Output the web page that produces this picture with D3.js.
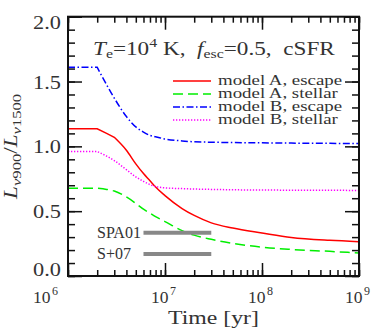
<!DOCTYPE html>
<html>
<head>
<meta charset="utf-8">
<script src="https://cdn.jsdelivr.net/npm/d3@7"></script>
<style>
body { margin: 0; background: #fff; }
text { font-family: 'Liberation Serif', serif; fill: #333; }
</style>
</head>
<body>
<script>

// Data
const times = [1e6, 2e6, 2.5e6, 3e6, 4e6, 5e6, 6e6, 7e6, 8e6, 1e7, 1.5e7, 2e7, 3e7, 5e7, 1e8, 2e8, 5e8, 1e9]
const escapeA = [1.135, 1.135, 1.10, 1.07, 0.97, 0.865, 0.79, 0.735, 0.686, 0.62, 0.52, 0.467, 0.41, 0.37, 0.332, 0.297, 0.275, 0.265]
const stellarA = [0.677, 0.677, 0.668, 0.655, 0.61, 0.56, 0.515, 0.485, 0.458, 0.42, 0.35, 0.315, 0.283, 0.252, 0.222, 0.205, 0.19, 0.178]
const escapeB = [1.61, 1.61, 1.475, 1.372, 1.23, 1.15, 1.11, 1.085, 1.074, 1.057, 1.042, 1.035, 1.032, 1.029, 1.027, 1.025, 1.023, 1.022]
const stellarB = [0.96, 0.96, 0.925, 0.89, 0.82, 0.765, 0.73, 0.705, 0.69, 0.68, 0.674, 0.671, 0.668, 0.665, 0.663, 0.662, 0.661, 0.66]

const seriesNames = ['model A, escape', 'model A, stellar', 'model B, escape', 'model B, stellar']

const obsLabels = ['SPA01', 'S+07']
const obsValues = [0.334, 0.17]
const obsRange = [6e6, 3e7]

const yTickValues = [0, 0.5, 1, 1.5, 2]
const xTickValues = [1e6, 1e7, 1e8, 1e9]
const xTickExponents = ['6', '7', '8', '9']

const w = 382
const h = 330
const padLeft = 68, padRight = 359, padTop = 16.7, padBottom = 276

const svg = d3.select('body')
    .append('svg')
        .attr('width', w)
        .attr('height', h)

const x = d3.scaleLog()
    .domain([1e6, 1e9])
    .range([padLeft, padRight])

const y = d3.scaleLinear()
    .domain([0, 2])
    .range([padBottom, padTop])

// the original font is wide, so stretch text to its measured width
const stretch = (sel, k) => sel.each(function () {
    const len = this.getComputedTextLength()
    d3.select(this)
        .attr('textLength', len * k)
        .attr('lengthAdjust', 'spacingAndGlyphs')
})

// Ticks (inward on all four sides)
const yMinor = d3.range(0, 2.001, 0.1)
const xMinor = x.ticks()

const tickAxis = (axis, tx, ty) => {
    svg.append('g')
        .attr('transform', `translate(${tx}, ${ty})`)
        .call(axis.tickFormat(''))
        .call(g => g.select('.domain').remove())
        .call(g => g.selectAll('line').attr('stroke', '#111').attr('stroke-width', 1.5))
}

tickAxis(d3.axisBottom(x).tickValues(xMinor).tickSize(-6), 0, padBottom)
tickAxis(d3.axisBottom(x).tickValues(xTickValues).tickSize(-13), 0, padBottom)
tickAxis(d3.axisTop(x).tickValues(xMinor).tickSize(-6), 0, padTop)
tickAxis(d3.axisTop(x).tickValues(xTickValues).tickSize(-13), 0, padTop)
tickAxis(d3.axisLeft(y).tickValues(yMinor).tickSize(-7), padLeft, 0)
tickAxis(d3.axisLeft(y).tickValues(yTickValues).tickSize(-14), padLeft, 0)
tickAxis(d3.axisRight(y).tickValues(yMinor).tickSize(-7), padRight, 0)
tickAxis(d3.axisRight(y).tickValues(yTickValues).tickSize(-14), padRight, 0)

// Tick labels
svg.selectAll('.ylab')
    .data(yTickValues)
    .enter()
    .append('text')
        .attr('class', 'ylab')
        .attr('x', padLeft - 7)
        .attr('y', d => y(d) + (d === 2 ? 12.6 : d === 0 ? 0 : 7))
        .attr('text-anchor', 'end')
        .attr('font-size', 18)
        .text(d3.format('.1f'))
        .call(stretch, 1.24)

const xlab = svg.selectAll('.xlab')
    .data(xTickValues)
    .enter()
    .append('text')
        .attr('class', 'xlab')
        .attr('x', (d, i) => x(d) - (i === 0 ? 35 : 14))
        .attr('y', 303)
        .attr('font-size', 17.5)

xlab.append('tspan').text('10')
xlab.append('tspan')
    .attr('font-size', 12)
    .attr('dy', -8.5)
    .attr('dx', 1.5)
    .text((d, i) => xTickExponents[i])

svg.append('text')
    .attr('x', (padLeft + padRight) / 2)
    .attr('y', 324)
    .attr('text-anchor', 'middle')
    .attr('font-size', 18)
    .text('Time [yr]')
    .call(stretch, 1.32)

const ylabel = svg.append('text')
    .attr('transform', `translate(17, ${(padTop + padBottom) / 2}) rotate(-90)`)
    .attr('text-anchor', 'middle')
    .attr('font-size', 18)

ylabel.append('tspan').attr('font-style', 'italic').text('L')
ylabel.append('tspan').attr('font-size', 13).attr('dy', 4).attr('font-style', 'italic').text('\u03bd')
ylabel.append('tspan').attr('font-size', 13).text('900')
ylabel.append('tspan').attr('dy', -4).text('/')
ylabel.append('tspan').attr('font-style', 'italic').text('L')
ylabel.append('tspan').attr('font-size', 13).attr('dy', 4).attr('font-style', 'italic').text('\u03bd')
ylabel.append('tspan').attr('font-size', 13).text('1500')
ylabel.call(stretch, 1.28)

// Title
const title = svg.append('text')
    .attr('x', 93)
    .attr('y', 55)
    .attr('font-size', 19)
    .style('white-space', 'pre')

title.append('tspan').attr('font-style', 'italic').text('T')
title.append('tspan').attr('font-size', 13).attr('dy', 3).text('e')
title.append('tspan').attr('dy', -3).text('=10')
title.append('tspan').attr('font-size', 13).attr('dy', -8).text('4')
title.append('tspan').attr('dy', 8).text(' K,  ')
title.append('tspan').attr('font-style', 'italic').text('f')
title.append('tspan').attr('font-size', 13).attr('dy', 3).text('esc')
title.append('tspan').attr('dy', -3).text('=0.5,  cSFR')
title.call(stretch, 1.22)

// Curves
const series = [
    { name: seriesNames[0], values: escapeA, color: '#ff0000', dash: null, kink: 3 },
    { name: seriesNames[1], values: stellarA, color: '#00ee00', dash: '10,5', kink: 1 },
    { name: seriesNames[2], values: escapeB, color: '#0000ff', dash: '7,2.5,1.5,2.5', kink: 1 },
    { name: seriesNames[3], values: stellarB, color: '#ff00ff', dash: '1.3,1.7', kink: 1 }
]

svg.append('clipPath')
    .attr('id', 'plot-clip')
    .append('rect')
        .attr('x', padLeft)
        .attr('y', padTop)
        .attr('width', padRight - padLeft)
        .attr('height', padBottom - padTop)

const lineLinear = d3.line().x(d => x(d[0])).y(d => y(d[1]))
const lineSmooth = d3.line().x(d => x(d[0])).y(d => y(d[1])).curve(d3.curveMonotoneX)

const plot = svg.append('g').attr('clip-path', 'url(#plot-clip)')

series.forEach(s => {
    const pts = times.map((t, i) => [t, s.values[i]])
    const head = pts.slice(0, s.kink + 1)
    const tail = pts.slice(s.kink)
    plot.append('path')
        .attr('d', lineLinear(head) + lineSmooth(tail).replace(/^M[^CL]*/, ''))
        .attr('fill', 'none')
        .attr('stroke', s.color)
        .attr('stroke-width', 1.5)
        .attr('stroke-dasharray', s.dash)
})

// Observational ranges
obsValues.forEach((v, i) => {
    svg.append('line')
        .attr('x1', x(obsRange[0]))
        .attr('x2', x(obsRange[1]))
        .attr('y1', y(v))
        .attr('y2', y(v))
        .attr('stroke', '#888')
        .attr('stroke-width', 4)
    svg.append('text')
        .attr('x', 97)
        .attr('y', y(v) + 5.5)
        .attr('font-size', 16)
        .text(obsLabels[i])
})

// Legend
const legendRows = [81, 94, 107, 120]
series.forEach((s, i) => {
    svg.append('line')
        .attr('x1', 173)
        .attr('x2', 211)
        .attr('y1', legendRows[i])
        .attr('y2', legendRows[i])
        .attr('stroke', s.color)
        .attr('stroke-width', 1.5)
        .attr('stroke-dasharray', s.dash)
    svg.append('text')
        .attr('x', 218)
        .attr('y', legendRows[i] + 4)
        .attr('font-size', 14.5)
        .text(s.name)
        .call(stretch, 1.3)
})

// Frame
svg.append('rect')
    .attr('x', padLeft)
    .attr('y', padTop)
    .attr('width', padRight - padLeft)
    .attr('height', padBottom - padTop)
    .attr('fill', 'none')
    .attr('stroke', '#111')
    .attr('stroke-width', 2)

</script>
</body>
</html>
